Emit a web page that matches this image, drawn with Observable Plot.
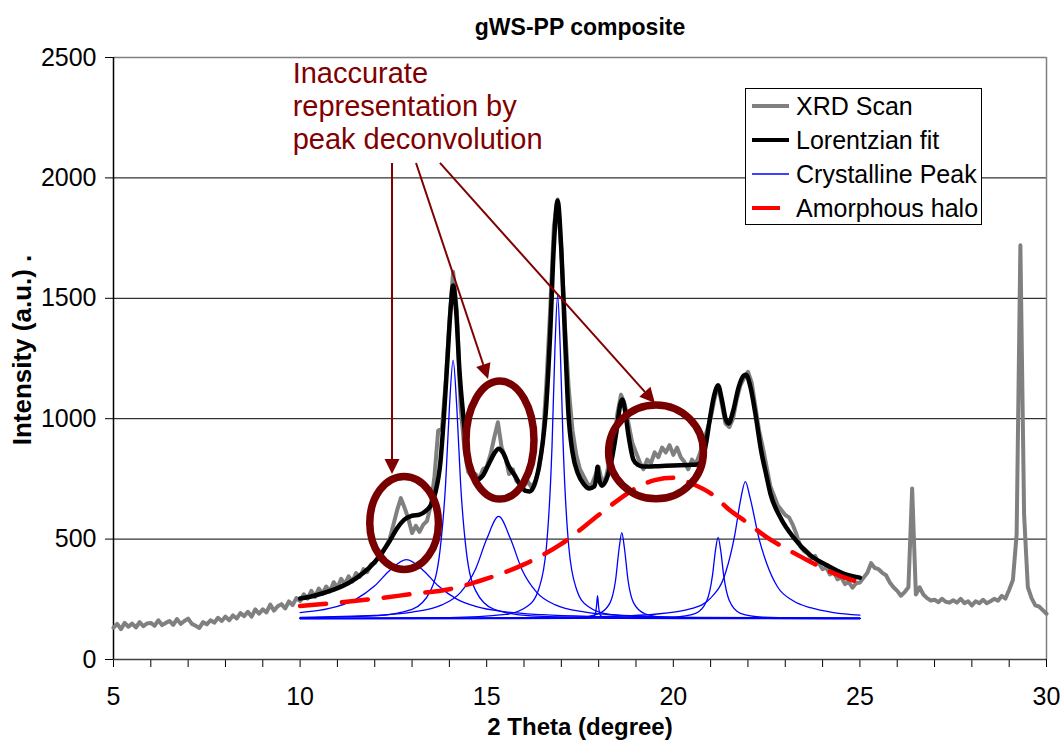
<!DOCTYPE html>
<html><head><meta charset="utf-8">
<script src="https://cdn.jsdelivr.net/npm/d3@7"></script>
<script src="https://cdn.jsdelivr.net/npm/@observablehq/plot@0.6"></script>
<style>
html,body{margin:0;padding:0;background:#fff;}
#chart svg{display:block;}
</style></head><body><div id="chart"></div>
<script>
// ---------- texts ----------
const chartTitle = "gWS-PP composite";
const xTitle = "2 Theta (degree)";
const yTitle = "Intensity (a.u.) .";
const noteText = "Inaccurate\nrepresentation by\npeak deconvolution";
const legendLabels = ["XRD Scan", "Lorentzian fit", "Crystalline Peak", "Amorphous halo"];

// ---------- ticks ----------
const xTickValues = [5,6,7,8,9,10,11,12,13,14,15,16,17,18,19,20,21,22,23,24,25,26,27,28,29,30];
const xTickLabels = [5,10,15,20,25,30];
const yTickValues = [0,500,1000,1500,2000,2500];

// ---------- XRD scan (2θ from 5 to 30, every 0.1) ----------
const scanStart = 5, scanStep = 0.1;
const scanY = [
 132,148,126,152,136,149,133,155,138,150,
 152,140,163,143,152,160,144,168,148,160,
 170,148,140,131,155,146,163,153,173,160,
 178,163,183,170,193,180,198,178,208,190,
 208,196,228,203,221,230,212,241,226,255,
 243,271,253,285,260,295,273,303,283,321,
 298,335,313,345,323,359,343,375,363,395,
 400,428,440,470,500,560,620,670,630,585,
 525,555,530,560,575,640,760,950,960,1150,
 1400,1610,1450,1050,880,780,760,770,750,790,
 800,850,920,985,880,840,770,790,740,730,
 720,740,715,740,790,900,1150,1450,1800,1910,
 1700,1380,1120,950,850,790,760,730,720,760,
 800,730,760,830,900,1020,1100,1060,980,900,
 860,820,790,830,815,860,840,880,860,890,
 850,880,840,820,790,830,810,850,900,950,
 1000,1080,1140,1060,980,965,1000,1080,1140,1170,
 1195,1150,1050,950,880,800,720,680,640,620,
 600,590,560,520,470,450,440,420,430,400,
 375,382,353,362,333,342,313,322,298,317,
 320,340,360,400,380,375,360,350,320,300,
 285,265,280,300,710,270,300,270,255,245,
 248,238,252,240,236,246,236,252,234,242,
 224,242,234,248,234,242,252,244,264,253,
 290,330,520,1720,600,300,255,225,220,205,
 190
];

// ---------- Lorentzian fit ----------
const fitCurve = [
 [10.0,253],[10.4,266],[10.9,290],[11.3,318],[11.7,360],[12.0,405],[12.2,445],[12.4,492],[12.6,545],[12.8,582],
 [13.0,597],[13.2,602],[13.35,615],[13.5,640],[13.62,690],[13.76,820],[13.85,1000],[13.95,1250],[14.03,1450],[14.1,1553],
 [14.18,1450],[14.27,1200],[14.38,1000],[14.5,830],[14.62,770],[14.75,748],[14.9,765],[15.05,810],[15.2,855],[15.32,875],
 [15.45,855],[15.6,800],[15.75,765],[15.9,725],[16.05,700],[16.15,698],[16.25,715],[16.4,800],[16.5,900],[16.58,1021],
 [16.7,1350],[16.8,1720],[16.9,1905],[17.0,1700],[17.1,1330],[17.19,1021],[17.3,860],[17.45,770],[17.6,728],[17.75,710],
 [17.88,718],[17.94,760],[17.97,800],[18.0,760],[18.08,722],[18.2,745],[18.35,830],[18.48,950],[18.58,1060],[18.63,1080],
 [18.7,1040],[18.8,930],[18.93,830],[19.05,808],[19.2,801],[19.6,803],[20.0,806],[20.4,808],[20.65,810],[20.78,830],
 [20.88,900],[20.98,1000],[21.1,1100],[21.2,1138],[21.3,1080],[21.4,1000],[21.48,980],[21.6,1030],[21.75,1130],[21.88,1178],
 [21.95,1182],[22.07,1130],[22.2,1020],[22.35,870],[22.5,760],[22.6,690],[22.87,590],[23.22,507],[23.68,432],[24.13,390],
 [24.56,357],[25.0,340]
];

// ---------- Amorphous halo ----------
const haloCurve = [
 [10,222],[11,236],[12,252],[13,272],[14,292],[15,336],[16,395],[17,480],[18,600],[18.5,660],
 [19,712],[19.5,745],[20,755],[20.5,730],[21,690],[21.5,622],[22,566],[22.5,508],[23,462],[23.5,420],
 [24,380],[24.5,345],[25,320]
];

// ---------- Crystalline peaks ----------
const peakA = [[10,195],[10.5,204],[11,221],[11.5,251],[12,306],[12.4,370],[12.85,415],[13.3,370],[13.7,306],[14.2,251],[14.7,221],[15.5,198],[16.5,186],[18,178],[20,174],[25,172]];
const peakB = [[10,173],[12,181],[13,208],[13.5,287],[13.75,454],[13.9,732],[14,1044],[14.1,1242],[14.2,1044],[14.3,732],[14.45,454],[14.7,287],[15.2,208],[16.2,181],[18.2,173],[25,170]];
const peakC = [[10,175],[12,183],[13,197],[13.8,227],[14.3,279],[14.7,375],[15,500],[15.32,594],[15.64,500],[15.94,375],[16.34,279],[16.84,227],[17.64,197],[18.64,183],[20.64,175],[25,172]];
const peakD = [[10,171],[14,174],[15.5,187],[16.1,222],[16.4,295],[16.6,467],[16.75,884],[16.83,1297],[16.9,1512],[16.97,1297],[17.05,884],[17.2,467],[17.4,295],[17.7,222],[18.3,187],[19.8,174],[25,171]];
const peakE = [[10,170],[17.5,170.4],[17.8,173],[17.9,185],[17.94,217],[17.97,265],[18,217],[18.04,185],[18.14,173],[18.5,170.4],[25,170]];
const peakF = [[10,170],[16,171],[17.5,176],[18,190],[18.3,234],[18.45,326],[18.55,463],[18.62,527],[18.69,463],[18.79,326],[18.94,234],[19.24,190],[19.74,176],[21,171.4],[25,170]];
const peakG = [[10,170],[19,172],[20,176],[20.6,192],[20.9,245],[21.05,349],[21.13,453],[21.2,507],[21.27,453],[21.35,349],[21.5,245],[21.8,192],[22.4,176],[23.4,172],[25,170.6]];
const peakH = [[10,171],[15,173],[18,178],[19.5,188],[20.5,212],[21,255],[21.4,360],[21.65,520],[21.8,660],[21.93,739],[22.06,670],[22.3,500],[22.5,400],[22.8,300],[23.2,245],[23.7,214],[24.3,195],[25,184]];
const crystallinePeaks = [peakA, peakB, peakC, peakD, peakE, peakF, peakG, peakH];

// ---------- annotations (data units) ----------
const noteX = [9.8], noteY = [2300];
const ellipseCX = [12.80, 15.37, 19.55];
const ellipseCY = [565, 909, 860];
const ellipseRX = [0.92, 0.91, 1.27];
const ellipseRY = [193, 245, 195];
const arrowX1 = [12.476, 13.12, 13.76];
const arrowY1 = [2060, 2060, 2060];
const arrowX2 = [12.476, 15.05, 19.52];
const arrowY2 = [768, 1163, 1063];

// ---------- colours ----------
const cScan = "#808080", cFit = "#000000", cPeak = "#0000ff", cHalo = "#ff0000", cNote = "#800000", cRing = "#780000";

const scan = scanY.map((v, i) => ({x: +(scanStart + i * scanStep).toFixed(2), y: v}));
const fx = d => d[0], fy = d => d[1];

function ellipsesMark(index, scales) {
  const g = d3.create("svg:g");
  ellipseCX.forEach((cx, i) => {
    const px = scales.x(cx), py = scales.y(ellipseCY[i]);
    g.append("ellipse").attr("cx", px).attr("cy", py)
      .attr("rx", Math.abs(scales.x(cx + ellipseRX[i]) - px))
      .attr("ry", Math.abs(scales.y(ellipseCY[i] + ellipseRY[i]) - py))
      .attr("fill", "none").attr("stroke", cRing).attr("stroke-width", 7.5);
  });
  return g.node();
}
function arrowsMark(index, scales) {
  const g = d3.create("svg:g");
  arrowX1.forEach((x1, i) => {
    const ax = scales.x(x1), ay = scales.y(arrowY1[i]);
    const bx = scales.x(arrowX2[i]), by = scales.y(arrowY2[i]);
    const L = Math.hypot(bx - ax, by - ay), ux = (bx - ax) / L, uy = (by - ay) / L;
    const hl = 15, hw = 7.5;
    const mx = bx - ux * hl, my = by - uy * hl;
    g.append("line").attr("x1", ax).attr("y1", ay).attr("x2", mx).attr("y2", my)
      .attr("stroke", cNote).attr("stroke-width", 2);
    g.append("path").attr("d", `M${bx},${by}L${mx - uy * hw},${my + ux * hw}L${mx + uy * hw},${my - ux * hw}Z`)
      .attr("fill", cNote);
  });
  return g.node();
}
function legendMark(index, scales, values, dims) {
  const g = d3.create("svg:g");
  const right = dims.width - dims.marginRight - 65, top = dims.marginTop + 31;
  const w = 236, rowH = 34, left = right - w;
  g.append("rect").attr("x", left + 0.5).attr("y", top + 0.5).attr("width", w).attr("height", rowH * 4)
    .attr("fill", "#fff").attr("stroke", "#000").attr("stroke-width", 1);
  const styles = [
    {c: cScan, w: 4, x2: 44}, {c: cFit, w: 4, x2: 44}, {c: cPeak, w: 1.5, x2: 44}, {c: cHalo, w: 4, x2: 35}
  ];
  legendLabels.forEach((lab, i) => {
    const cy = top + rowH * i + rowH / 2 + 1;
    g.append("line").attr("x1", left + 7).attr("x2", left + styles[i].x2).attr("y1", cy).attr("y2", cy)
      .attr("stroke", styles[i].c).attr("stroke-width", styles[i].w);
    g.append("text").attr("x", left + 51).attr("y", cy).attr("dy", "0.35em")
      .attr("text-anchor", "start").attr("font-size", 25).attr("fill", "#000").text(lab);
  });
  return g.node();
}
function yTitleMark(index, scales, values, dims) {
  const g = d3.create("svg:g");
  const cy = dims.marginTop + (dims.height - dims.marginTop - dims.marginBottom) / 2 - 8;
  g.append("text").attr("transform", `translate(22,${cy}) rotate(-90)`).attr("dy", "0.35em")
    .attr("text-anchor", "middle").attr("font-weight", "bold").attr("font-size", 26).attr("fill", "#000").text(yTitle);
  return g.node();
}

const chart = Plot.plot({
  width: 1061, height: 740,
  marginLeft: 113, marginRight: 15, marginTop: 57, marginBottom: 81,
  style: {fontFamily: "'Liberation Sans', Arial, sans-serif", fontSize: "25px", color: "#000", background: "#fff", overflow: "visible"},
  x: {domain: [5, 30], ticks: xTickValues, tickSize: 8, tickPadding: 20, tickFormat: d => xTickLabels.includes(d) ? String(d) : "", label: null},
  y: {domain: [0, 2500], ticks: yTickValues, tickSize: 8, tickPadding: 9, tickFormat: d => String(d), label: null},
  marks: [
    Plot.ruleY(yTickValues.slice(1, 5), {stroke: "#000", strokeWidth: 1}),
    Plot.ruleY([2500], {stroke: "#808080", strokeWidth: 1.5}),
    Plot.ruleX([30], {stroke: "#808080", strokeWidth: 1.5}),
    Plot.ruleY([0], {stroke: "#404040", strokeWidth: 1.5}),
    Plot.ruleX([5], {stroke: "#000", strokeWidth: 1.5}),
    Plot.line(scan, {x: "x", y: "y", stroke: cScan, strokeWidth: 4, strokeLinejoin: "round"}),
    Plot.line(fitCurve, {x: fx, y: fy, stroke: cFit, strokeWidth: 4.5, curve: "monotone-x"}),
    ...crystallinePeaks.map(p => Plot.line(p, {x: fx, y: fy, stroke: cPeak, strokeWidth: 1.3, curve: "monotone-x"})),
    Plot.line(haloCurve, {x: fx, y: fy, stroke: cHalo, strokeWidth: 4.5, strokeDasharray: "26,16", curve: "monotone-x"}),
    ellipsesMark,
    arrowsMark,
    Plot.text(noteX, {x: d => d, y: (d, i) => noteY[i], text: () => noteText, textAnchor: "start", lineAnchor: "middle", lineHeight: 1.14, fontSize: 29, fill: cNote}),
    legendMark,
    Plot.text([chartTitle], {frameAnchor: "top", dy: -30, fontWeight: "bold", fontSize: 23, lineAnchor: "middle"}),
    Plot.text([xTitle], {frameAnchor: "bottom", dy: 68, fontWeight: "bold", fontSize: 24, lineAnchor: "middle"}),
    yTitleMark
  ]
});
document.getElementById("chart").appendChild(chart);
</script></body></html>
